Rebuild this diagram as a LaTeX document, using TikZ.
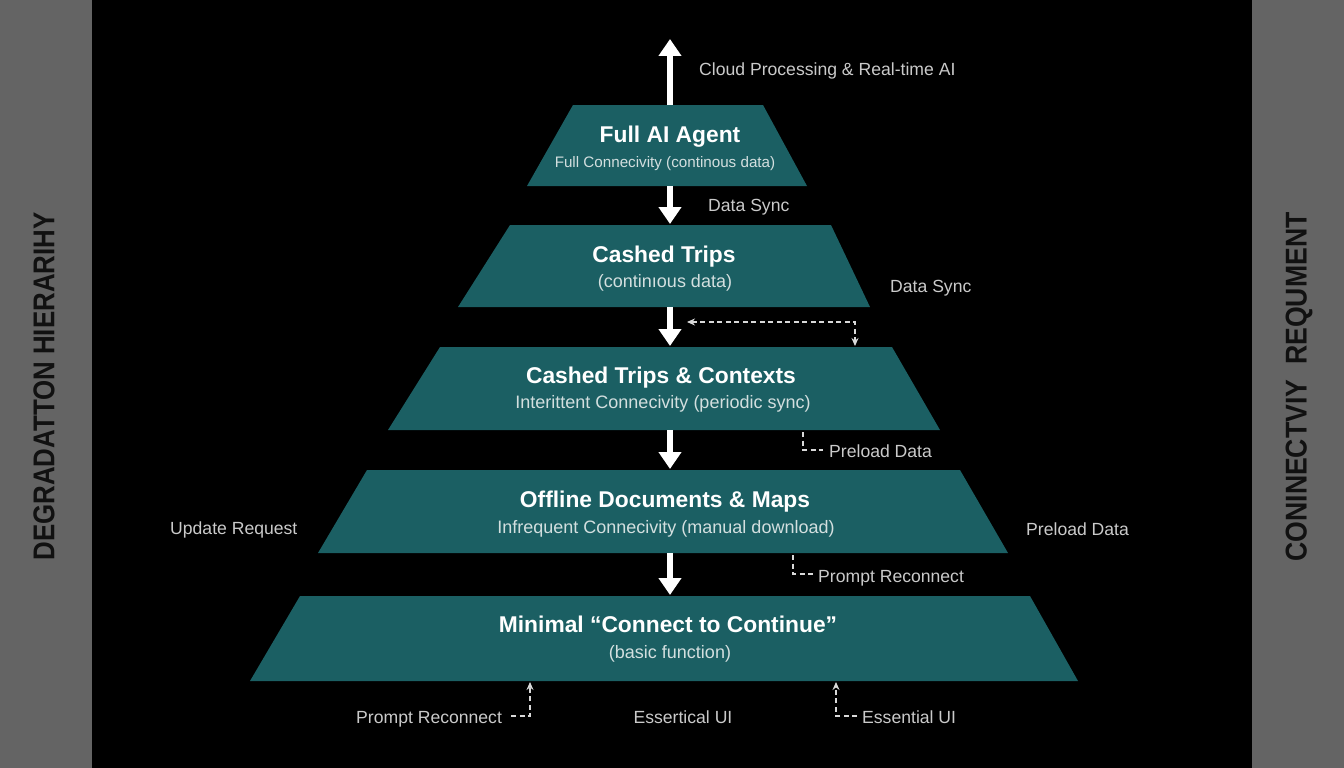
\documentclass[tikz,border=0pt]{standalone}
\usepackage{fontspec}
\setmainfont{Liberation Sans}
\usetikzlibrary{arrows.meta}
\definecolor{teal1}{HTML}{1B5F63}
\definecolor{sidegray}{HTML}{646464}
\definecolor{sidetext}{HTML}{111111}
\definecolor{lbl}{HTML}{CACACA}
\definecolor{subc}{HTML}{D3DFDF}
\definecolor{dashc}{HTML}{D9D9D9}
\begin{document}
\begin{tikzpicture}[x=1pt,y=-1pt,
  layer/.style={fill=teal1},
  title/.style={text=white,font=\fontsize{22.8}{26}\selectfont\bfseries,inner sep=0pt,anchor=base},
  subtitle/.style={text=subc,font=\fontsize{18}{21}\selectfont,inner sep=0pt,anchor=base},
  lab/.style={text=lbl,font=\fontsize{17.6}{20}\selectfont,inner sep=0pt,anchor=base west},
  bigarrow/.style={draw=white,line width=6pt,-{Triangle[width=22pt,length=17pt]}},
  dashconn/.style={draw=dashc,line width=1.4pt,dash pattern=on 5pt off 3.5pt},
  smalltip/.style={-{Stealth[length=8pt,width=7pt]}},
  sidelabel/.style={rotate=90,text=sidetext,inner sep=0pt,font=\bfseries}
]
\useasboundingbox (0,0) rectangle (1344,768);
\fill[black] (0,0) rectangle (1344,768);
\fill[sidegray] (0,0) rectangle (92,768);
\fill[sidegray] (1252,0) rectangle (1344,768);

% layers
\fill[layer] (573,105) -- (763,105) -- (807,186) -- (527,186) -- cycle;
\fill[layer] (510,225) -- (831,225) -- (870,307) -- (458,307) -- cycle;
\fill[layer] (440,347) -- (892,347) -- (940,430) -- (388,430) -- cycle;
\fill[layer] (367,470) -- (960,470) -- (1008,553) -- (318,553) -- cycle;
\fill[layer] (300,596) -- (1030,596) -- (1078,681) -- (250,681) -- cycle;

\coordinate (L1t) at (670,105);
\coordinate (L1b) at (670,186);
\coordinate (L2t) at (670,224);
\coordinate (L2b) at (670,307);
\coordinate (L3t) at (670,346);
\coordinate (L3b) at (670,430);
\coordinate (L4t) at (670,469);
\coordinate (L4b) at (670,553);
\coordinate (L5t) at (670,595);
\coordinate (cloudtip) at (670,39);

% titles
\node[title] (t1) at (670,142) {Full AI Agent};
\node[subtitle,font=\fontsize{15.2}{18}\selectfont] (s1) at (665,167) {Full Connecivity (continous data)};
\node[title] (t2) at (664,262) {Cashed Trips};
\node[subtitle] (s2) at (665,287) {(continıous data)};
\node[title] (t3) at (661,383) {Cashed Trips \& Contexts};
\node[subtitle] (s3) at (663,408) {Interittent Connecivity (periodic sync)};
\node[title] (t4) at (665,507) {Offline Documents \& Maps};
\node[subtitle] (s4) at (666,533) {Infrequent Connecivity (manual download)};
\node[title] (t5) at (668,632) {Minimal “Connect to Continue”};
\node[subtitle] (s5) at (670,658) {(basic function)};

% big arrows
\draw[bigarrow] (L1t) -- (cloudtip);
\draw[bigarrow] (L1b) -- (L2t);
\draw[bigarrow] (L2b) -- (L3t);
\draw[bigarrow] (L3b) -- (L4t);
\draw[bigarrow] (L4b) -- (L5t);

% labels
\node[lab] (cloud) at (699,76) {Cloud Processing \& Real-time AI};
\node[lab] (sync1) at (708,211) {Data Sync};
\node[lab] (sync2) at (890,292) {Data Sync};
\node[lab] (preload1) at (829,457) {Preload Data};
\node[lab] (preload2) at (1026,535) {Preload Data};
\node[lab] (update) at (170,534) {Update Request};
\node[lab] (promptR) at (818,582) {Prompt Reconnect};
\node[lab] (promptL) at (356,723) {Prompt Reconnect};
\node[lab,anchor=base] (esser) at (683,723) {Essertical UI};
\node[lab] (essR) at (862,723) {Essential UI};

% dashed connectors
\coordinate (dsA) at (687,322);
\coordinate (dsB) at (855,346);
\draw[dashconn,{Stealth[length=8pt,width=7pt]}-{Stealth[length=8pt,width=7pt]}] (dsA) -| (dsB);

\coordinate (pl1s) at (803,432);
\coordinate (pl1e) at (823,450);
\draw[dashconn] (pl1s) |- (pl1e);

\coordinate (pr1s) at (793,555);
\coordinate (pr1e) at (813,574);
\draw[dashconn] (pr1s) |- (pr1e);

\coordinate (plLs) at (511,716);
\coordinate (plLe) at (530,682);
\draw[dashconn,smalltip] (plLs) -| (plLe);

\coordinate (esRs) at (857,716);
\coordinate (esRe) at (836,682);
\draw[dashconn,smalltip] (esRs) -| (esRe);

% side labels
\node[sidelabel] (degr) at (44,386.5) {\resizebox{348pt}{21pt}{DEGRADATTON HIERARIHY}};
\node[sidelabel] (conn) at (1299,387) {\resizebox{349pt}{21pt}{CONINECTVIY\ \ REQUMENT}};
\end{tikzpicture}
\end{document}
